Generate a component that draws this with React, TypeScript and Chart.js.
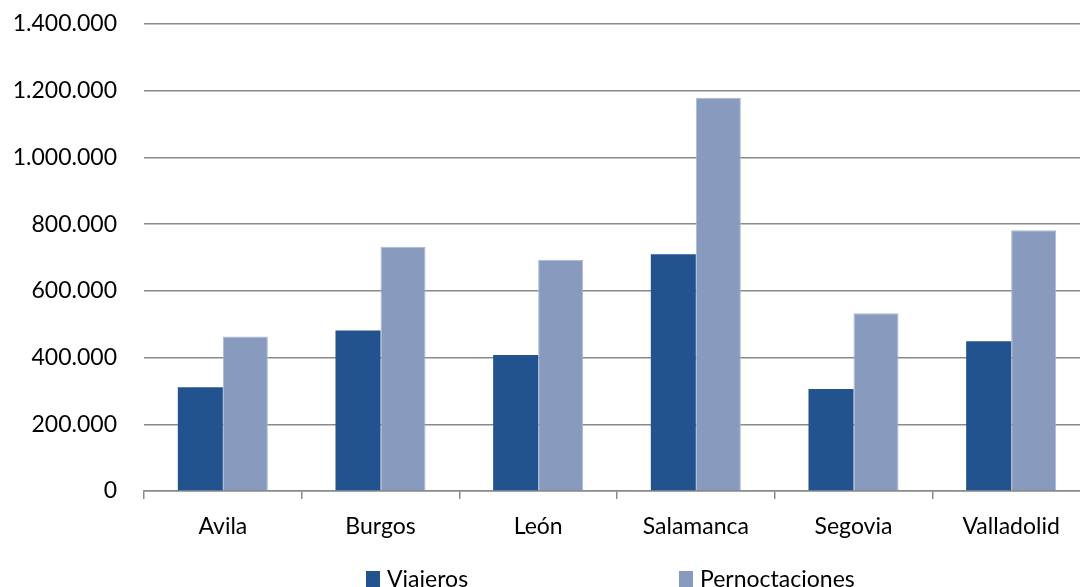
import React, { useEffect, useRef } from "react";
import { Chart, registerables } from "chart.js";

Chart.register(...registerables);

const categories = ["Avila", "Burgos", "León", "Salamanca", "Segovia", "Valladolid"];
const viajeros = [311000, 481000, 408000, 710000, 306000, 449000];
const pernoctaciones = [463000, 732000, 693000, 1179000, 533000, 782000];
const seriesNames = ["Viajeros", "Pernoctaciones"];
const yTicks = [0, 200000, 400000, 600000, 800000, 1000000, 1200000, 1400000];

const DARK = "#22538E";
const LIGHT = "#889ABD";
const GRID = "#8a8a8a";
const FONT = "Lato, 'Open Sans', sans-serif";

function fmt(v: number): string {
  return String(Math.round(v)).replace(/\B(?=(\d{3})+(?!\d))/g, ".");
}

const legendPlugin = {
  id: "customLegend",
  afterDraw(chart: any) {
    const ctx = chart.ctx;
    ctx.save();
    ctx.font = `23px ${FONT}`;
    ctx.textBaseline = "alphabetic";
    ctx.textAlign = "left";
    const items = [
      { x: 366, color: DARK, text: seriesNames[0] },
      { x: 679, color: LIGHT, text: seriesNames[1] },
    ];
    items.forEach((it) => {
      ctx.fillStyle = it.color;
      ctx.fillRect(it.x, 571, 14, 16);
      ctx.fillStyle = "#000";
      ctx.fillText(it.text, it.x + 21, 587);
    });
    ctx.restore();
  },
};

export default function App() {
  const ref = useRef<HTMLCanvasElement | null>(null);
  useEffect(() => {
    document.body.style.margin = "0";
    const chart = new Chart(ref.current as HTMLCanvasElement, {
      type: "bar",
      data: {
        labels: categories,
        datasets: [
          {
            label: seriesNames[0],
            data: viajeros,
            backgroundColor: DARK,
            borderWidth: 0,
            categoryPercentage: 0.571,
            barPercentage: 1,
          },
          {
            label: seriesNames[1],
            data: pernoctaciones,
            backgroundColor: LIGHT,
            borderColor: "#a9b8d6",
            borderWidth: { top: 1, left: 1, right: 1, bottom: 0 },
            categoryPercentage: 0.571,
            barPercentage: 1,
          },
        ],
      },
      options: {
        animation: false,
        responsive: false,
        maintainAspectRatio: false,
        layout: { padding: { top: 24, bottom: 40, left: 0, right: 0 } },
        plugins: {
          legend: { display: false },
          tooltip: { enabled: false },
        },
        scales: {
          x: {
            offset: true,
            grid: {
              offset: true,
              drawOnChartArea: false,
              drawTicks: true,
              tickLength: 8,
              color: GRID,
              lineWidth: 1.5,
            },
            border: { display: true, color: GRID, width: 1.5 },
            ticks: {
              color: "#000",
              font: { family: FONT, size: 23 },
              padding: 14,
              maxRotation: 0,
              autoSkip: false,
            },
            afterFit: (s: any) => {
              s.height = 56;
            },
          },
          y: {
            min: 0,
            max: 1400000,
            afterBuildTicks: (s: any) => {
              s.ticks = yTicks.map((v) => ({ value: v }));
            },
            grid: { color: GRID, lineWidth: 1.5, drawTicks: false },
            border: { display: false },
            ticks: {
              color: "#000",
              font: { family: FONT, size: 23 },
              padding: 27,
              callback: (v: any) => fmt(Number(v)),
            },
            afterFit: (s: any) => {
              s.width = 144;
              s.paddingTop = 14;
              s.paddingBottom = 0;
            },
          },
        },
      },
      plugins: [legendPlugin],
    });
    return () => chart.destroy();
  }, []);
  return (
    <div style={{ width: 1080, height: 587, overflow: "hidden", position: "relative", background: "#fff" }}>
      <canvas ref={ref} width={1090} height={587} style={{ display: "block", width: 1090, height: 587 }} />
    </div>
  );
}
